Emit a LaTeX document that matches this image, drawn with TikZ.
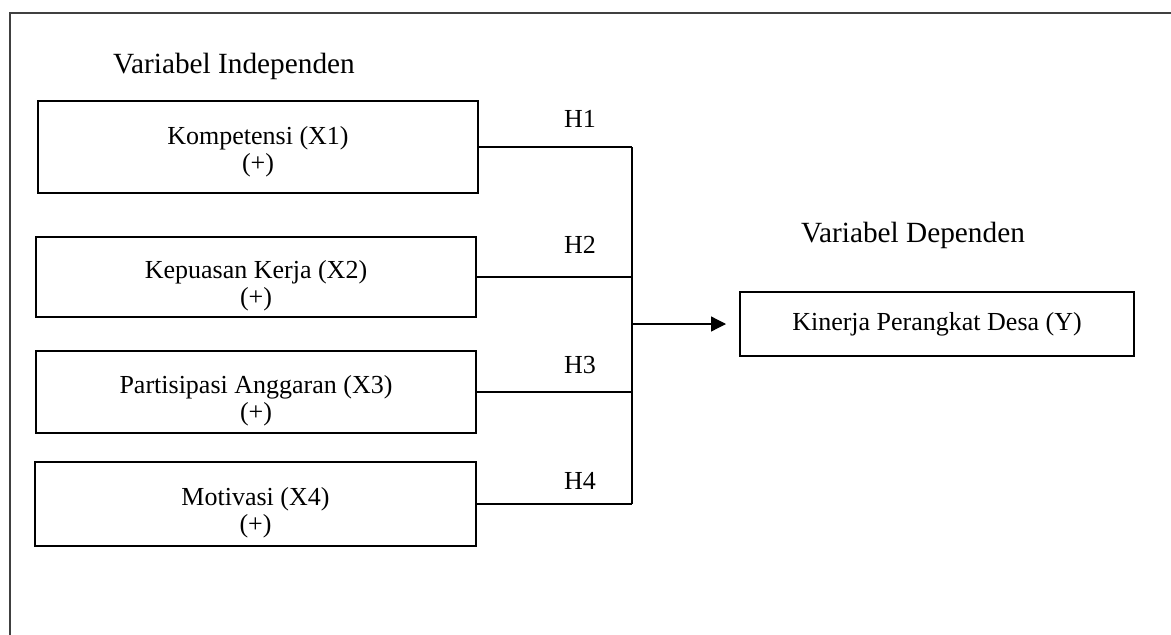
\documentclass[tikz,border=0pt]{standalone}
\usepackage{fontspec}
\setmainfont{Liberation Serif}
\usetikzlibrary{arrows.meta}
\begin{document}
\begin{tikzpicture}[x=1pt,y=-1pt,
  every node/.style={font=\fontsize{26}{27}\selectfont},
  varbox/.style={draw, line width=2pt, inner sep=0pt},
  boxtext/.style={inner sep=0pt, align=center},
  conn/.style={line width=1.3pt},
  hlabel/.style={anchor=base, inner sep=0pt},
  heading/.style={anchor=base west, inner sep=0pt, font=\fontsize{29.3}{32}\selectfont}]
\useasboundingbox (0,0) rectangle (1171,635);
% outer frame (left and top edges visible)
\draw[line width=1.3pt, black!75] (10,635) -- (10,13) -- (1171,13);
% headings
\node[heading] (hind) at (113,73) {Variabel Independen};
\node[heading] (hdep) at (801,242) {Variabel Dependen};
% boxes
\node[varbox, minimum width=440pt, minimum height=92pt] (b1) at (258,147) {};
\node[varbox, minimum width=440pt, minimum height=80pt] (b2) at (256,277) {};
\node[varbox, minimum width=440pt, minimum height=82pt] (b3) at (256,392) {};
\node[varbox, minimum width=441pt, minimum height=84pt] (b4) at (255.5,504) {};
\node[boxtext] (t1) at ([yshift=-5pt]b1.center) {Kompetensi (X1)\\(+)};
\node[boxtext] (t2) at ([yshift=-9pt]b2.center) {Kepuasan Kerja (X2)\\(+)};
\node[boxtext] (t3) at ([yshift=-9pt]b3.center) {Partisipasi Anggaran (X3)\\(+)};
\node[boxtext] (t4) at ([yshift=-9pt]b4.center) {Motivasi (X4)\\(+)};
\node[varbox, minimum width=394pt, minimum height=64pt] (y) at (937,324) {Kinerja Perangkat Desa (Y)};
% junction
\coordinate (jx) at (632,0);
\draw[conn] (b1.east) -- (b1.east -| jx);
\draw[conn] (b2.east) -- (b2.east -| jx);
\draw[conn] (b3.east) -- (b3.east -| jx);
\draw[conn] (b4.east) -- (b4.east -| jx);
\draw[conn] (b1.east -| jx) -- (b4.east -| jx);
\draw[conn, -{Triangle[length=15pt,width=15pt]}, shorten >=13pt] (y.west -| jx) -- (y.west);
% labels
\node[hlabel] (h1) at (580,127) {H1};
\node[hlabel] (h2) at (580,253) {H2};
\node[hlabel] (h3) at (580,373) {H3};
\node[hlabel] (h4) at (580,489) {H4};
\end{tikzpicture}
\end{document}
